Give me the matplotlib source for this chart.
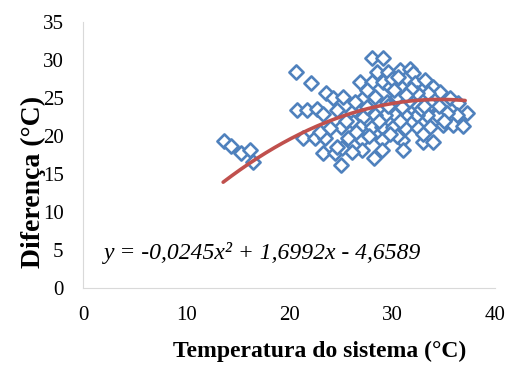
import numpy as np
import matplotlib
matplotlib.use("Agg")
import matplotlib.pyplot as plt

temperatura = [13.7, 14.4, 15.3, 16.2, 16.5,
  20.7, 22.1, 20.8, 21.7, 22.7, 23.3, 23.6, 24.3, 25.2, 24.7, 21.4, 22.5, 23.5, 23.3, 24.5, 25.0, 25.0, 23.0,
  28.1, 29.1, 28.5, 29.6, 30.8, 31.7, 32.0, 26.9, 28.1, 29.1, 29.8, 31.0, 32.2, 33.2, 34.0, 34.7, 33.5, 32.4,
  27.2, 28.3, 29.5, 30.5, 31.5, 35.6, 36.4, 37.3, 36.3, 35.3, 34.4, 33.4, 32.4, 31.3, 30.3, 29.3, 28.3, 27.2,
  26.1, 27.6, 26.2, 26.9, 28.1, 29.0, 30.1, 31.3, 32.5, 33.7, 34.9, 35.9, 36.9, 25.7, 27.1, 29.0, 31.0, 33.0,
  34.0, 27.1, 25.1, 26.1, 29.0, 31.1, 28.2, 24.7,
  30.0, 31.0, 32.5, 33.0, 30.5, 29.8, 28.7, 27.8, 30.2, 31.8, 33.8, 35.0, 24.0, 25.5, 26.5, 32.8, 30.8,
  29.6, 31.4, 34.6, 27.6, 26.4, 33.1, 30.6]
diferenca = [19.3, 18.7, 17.8, 18.2, 16.6,
  28.4, 27.0, 23.4, 23.4, 23.5, 22.9, 25.7, 25.0, 25.1, 23.4, 19.7, 19.7, 19.7, 17.8, 17.8, 16.2, 21.2, 20.5,
  30.3, 30.3, 28.4, 28.4, 28.7, 28.8, 28.3, 27.1, 27.1, 27.1, 26.4, 26.3, 27.0, 27.4, 26.4, 25.8, 25.6, 25.6,
  25.0, 25.1, 24.5, 25.1, 24.5, 25.0, 24.3, 23.0, 22.8, 23.0, 22.8, 22.8, 22.8, 22.8, 22.8, 22.8, 22.8, 22.5,
  23.2, 23.8, 21.8, 21.2, 21.2, 21.2, 21.2, 21.1, 21.1, 21.2, 21.4, 21.4, 21.3, 19.7, 19.5, 19.5, 19.5, 19.2,
  19.2, 18.2, 18.4, 17.9, 18.2, 18.2, 17.1, 18.6,
  27.5, 23.8, 24.0, 20.2, 20.0, 20.3, 22.0, 20.0, 26.0, 26.2, 24.2, 22.0, 21.0, 22.0, 20.5, 23.5, 22.0,
  24.0, 25.4, 23.9, 26.1, 24.4, 23.9, 27.8]
coef = [-0.0245, 1.6992, -4.6589]
eq_text = "y = -0,0245x² + 1,6992x - 4,6589"

plt.rcParams["font.family"] = ["Liberation Serif", "DejaVu Serif"]
fig = plt.figure(figsize=(5.13, 3.65), dpi=100)
ax = fig.add_axes([0.162, 0.211, 0.803, 0.729])

ax.scatter(temperatura, diferenca, marker="D", s=52, facecolors="white", edgecolors="#4F81BD", linewidths=1.9, zorder=2)
xs = np.linspace(min(temperatura) - 0.1, max(temperatura) - 0.2, 200)
ax.plot(xs, np.polyval(coef, xs), color="#C0504D", lw=2.6, zorder=3, solid_capstyle="round")

ax.set_xlim(0, 40)
ax.set_ylim(0, 35)
ax.set_xticks([0, 10, 20, 30, 40])
ax.set_yticks(range(0, 36, 5))
ax.tick_params(length=0, labelsize=15)
ax.tick_params(axis="y", pad=14)
ax.tick_params(axis="x", pad=13)
for s in ["top", "right"]: ax.spines[s].set_visible(False)
for s in ["left", "bottom"]: ax.spines[s].set_color("#D9D9D9")
ax.set_xlabel("Temperatura do sistema (°C)", fontsize=17, fontweight="bold")
ax.set_ylabel("Diferença (°C)", fontsize=20, fontweight="bold")
ax.xaxis.set_label_coords(0.575, -0.2)
ax.yaxis.set_label_coords(-0.09, 0.4)
ax.text(2.0, 3.8, eq_text, fontsize=17, style="italic")

fig.savefig("out.png", dpi=100)
